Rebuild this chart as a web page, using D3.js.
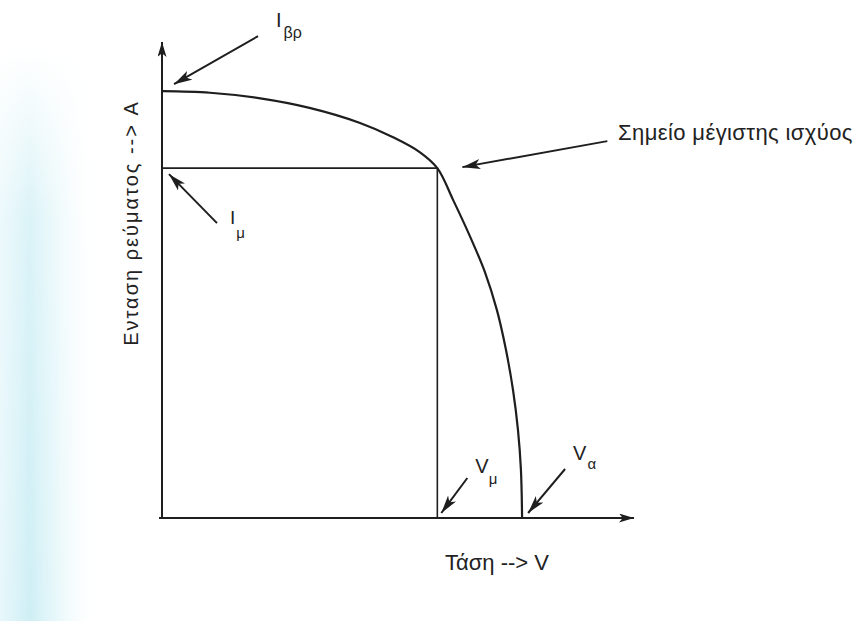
<!DOCTYPE html>
<html>
<head>
<meta charset="utf-8">
<script src="https://cdn.jsdelivr.net/npm/d3@7/dist/d3.min.js"></script>
<style>
  html, body { margin: 0; padding: 0; background: #fff; }
  svg { display: block; }
  text { font-family: "Liberation Sans", Arial, sans-serif; fill: #222; }
</style>
</head>
<body>
<script>
// I–V characteristic of a photovoltaic panel
const voltage = [0, 2.44, 5.0, 7.5, 10.07, 11.75, 13.12, 14.0, 14.8, 15.66, 16.42, 17.03, 17.49, 17.85, 18.1, 18.25, 18.31];
const current = [5.38, 5.36, 5.29, 5.17, 4.98, 4.80, 4.61, 4.41, 4.01, 3.55, 3.10, 2.62, 2.12, 1.61, 1.11, 0.61, 0];

const Isc = 5.38;   // short-circuit current I_βρ
const Imp = 4.41;   // current at maximum power I_μ
const Vmp = 14.0;   // voltage at maximum power V_μ
const Voc = 18.31;  // open-circuit voltage V_α

const xTitle = "Τάση --> V";
const yTitle = "Ενταση ρεύματος --> A";
const mppLabel = "Σημείο μέγιστης ισχύος";

const W = 866, H = 621;
const svg = d3.select("body").append("svg").attr("width", W).attr("height", H);
const defs = svg.append("defs");

// faint cyan tint along the left edge of the page
const hGrad = defs.append("linearGradient").attr("id", "tintH").attr("x1", 0).attr("x2", 1).attr("y1", 0).attr("y2", 0);
hGrad.append("stop").attr("offset", 0).attr("stop-color", "#d4f1f7").attr("stop-opacity", 0.55);
hGrad.append("stop").attr("offset", 0.3).attr("stop-color", "#c9edf4").attr("stop-opacity", 0.9);
hGrad.append("stop").attr("offset", 0.55).attr("stop-color", "#d6f2f7").attr("stop-opacity", 0.6);
hGrad.append("stop").attr("offset", 1).attr("stop-color", "#ffffff").attr("stop-opacity", 0);
const vGrad = defs.append("linearGradient").attr("id", "fadeTop").attr("x1", 0).attr("x2", 0).attr("y1", 0).attr("y2", 1);
vGrad.append("stop").attr("offset", 0).attr("stop-color", "#fff").attr("stop-opacity", 1);
vGrad.append("stop").attr("offset", 0.08).attr("stop-color", "#fff").attr("stop-opacity", 1);
vGrad.append("stop").attr("offset", 0.35).attr("stop-color", "#fff").attr("stop-opacity", 0.25);
vGrad.append("stop").attr("offset", 1).attr("stop-color", "#fff").attr("stop-opacity", 0);
svg.append("rect").attr("x", 0).attr("y", 0).attr("width", 100).attr("height", H).attr("fill", "url(#tintH)");
svg.append("rect").attr("x", 0).attr("y", 0).attr("width", 100).attr("height", H).attr("fill", "url(#fadeTop)");

const x = d3.scaleLinear().domain([0, 24]).range([162, 634]);
const y = d3.scaleLinear().domain([0, 6]).range([518, 42]);

const ink = "#1e1e1e";

// arrowheads
function head(id, len, wid) {
  defs.append("marker").attr("id", id)
    .attr("viewBox", `0 0 ${len} ${wid}`).attr("refX", len).attr("refY", wid / 2)
    .attr("markerWidth", len).attr("markerHeight", wid)
    .attr("markerUnits", "userSpaceOnUse").attr("orient", "auto")
    .append("path").attr("d", `M0,0L${len},${wid / 2}L0,${wid}L${len * 0.25},${wid / 2}Z`).attr("fill", ink);
}
head("axisHead", 15, 9);
head("noteHead", 18, 10);

const g = svg.append("g");

// axes
g.append("line").attr("x1", x(0)).attr("y1", y(0)).attr("x2", x(0)).attr("y2", y(6))
  .attr("stroke", ink).attr("stroke-width", 2).attr("marker-end", "url(#axisHead)");
g.append("line").attr("x1", x(0) - 3).attr("y1", y(0)).attr("x2", x(24)).attr("y2", y(0))
  .attr("stroke", ink).attr("stroke-width", 2).attr("marker-end", "url(#axisHead)");

// maximum power rectangle
g.append("line").attr("x1", x(0)).attr("y1", y(Imp)).attr("x2", x(Vmp)).attr("y2", y(Imp))
  .attr("stroke", ink).attr("stroke-width", 1.6);
g.append("line").attr("x1", x(Vmp)).attr("y1", y(Imp)).attr("x2", x(Vmp)).attr("y2", y(0))
  .attr("stroke", ink).attr("stroke-width", 1.6);

// I–V curve
const line = d3.line().x((d, i) => x(voltage[i])).y((d, i) => y(current[i])).curve(d3.curveCatmullRom.alpha(0.5));
g.append("path").datum(voltage).attr("d", line)
  .attr("fill", "none").attr("stroke", ink).attr("stroke-width", 2.2);

// annotation arrows, offset from the data anchors they point at
function arrow(x1, y1, x2, y2) {
  g.append("line").attr("x1", x1).attr("y1", y1).attr("x2", x2).attr("y2", y2)
    .attr("stroke", ink).attr("stroke-width", 2).attr("marker-end", "url(#noteHead)");
}
arrow(x(0) + 96, y(Isc) - 55, x(0) + 12, y(Isc) - 7);
arrow(x(0) + 55, y(Imp) + 55, x(0) + 7, y(Imp) + 6);
arrow(x(Vmp) + 170, y(Imp) - 27, x(Vmp) + 25, y(Imp) - 1);
arrow(x(Vmp) + 30, y(0) - 40, x(Vmp) + 4, y(0) - 5);
arrow(x(Voc) + 43, y(0) - 49, x(Voc) + 6, y(0) - 5);

// labels with subscripts
function subLabel(px, py, main, sub, size, subSize, dx, dy) {
  const t = g.append("text").attr("x", px).attr("y", py).style("font-size", size + "px");
  t.append("tspan").text(main);
  t.append("tspan").attr("dx", dx).attr("dy", dy).style("font-size", subSize + "px").text(sub);
}
subLabel(x(0) + 114, y(Isc) - 64, "I", "βρ", 20, 16, 2, 11);
subLabel(x(0) + 68, y(Imp) + 56, "I", "μ", 19, 15, 1, 14);
subLabel(x(Vmp) + 38, y(0) - 45, "V", "μ", 20, 15, 0, 11);
subLabel(x(Voc) + 51, y(0) - 58, "V", "α", 20, 15, 1, 9);

g.append("text").attr("x", 618).attr("y", 140).style("font-size", "22px")
  .style("letter-spacing", "0.4px").text(mppLabel);

g.append("text").attr("x", 497).attr("y", 570).attr("text-anchor", "middle")
  .style("font-size", "22px").text(xTitle);

g.append("text").attr("transform", "translate(138,223) rotate(-90)").attr("text-anchor", "middle")
  .style("font-size", "20px").style("letter-spacing", "2px").text(yTitle);
</script>
</body>
</html>
